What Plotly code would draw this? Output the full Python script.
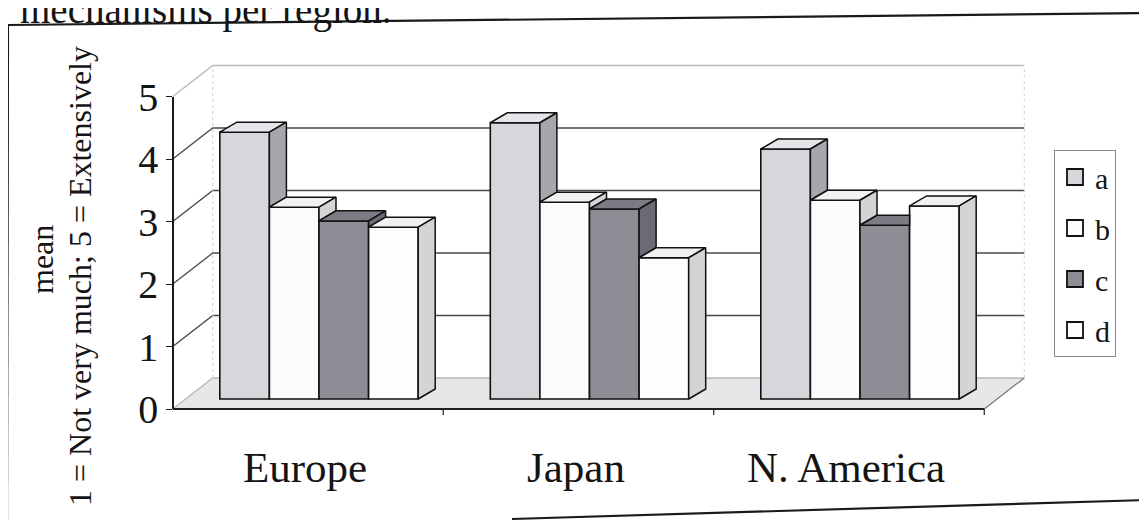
import plotly.graph_objects as go

# ---------------- data ----------------
categories = ["Europe", "Japan", "N. America"]
series_names = ["a", "b", "c", "d"]
a_vals = [4.27, 4.42, 4.00]
b_vals = [3.07, 3.15, 3.18]
c_vals = [2.85, 3.04, 2.78]
d_vals = [2.75, 2.26, 3.09]
y_ticks = [0, 1, 2, 3, 4, 5]
title_text = "mechanisms per region."
y_title_1 = "mean"
y_title_2 = "1 = Not very much; 5 = Extensively"

series_vals = [a_vals, b_vals, c_vals, d_vals]

# ---------------- styles / geometry ----------------
W, H = 1147, 520
OFF = 8                                   # page body margin compensation (px)
PX_X, X0PX = 270.5, 319 - OFF             # pixels per category, pixel of first category
PX_Y, Y0PX = 62.5, 399 - OFF              # pixels per unit, pixel of bar baseline
FONT = "Liberation Serif"
TXT = "#141414"


def px(xp):
    return (xp - OFF) / W


def py(yp):
    return 1 - (yp - OFF) / H


front_col = ["#d7d6db", "#fbfbfb", "#8e8c95", "#fdfdfd"]
top_col = ["#e6e5ea", "#f1f1f1", "#7c7a83", "#f1f1f1"]
side_col = ["#a7a6ac", "#d4d4d6", "#6c6a72", "#d4d4d6"]

bw = 49.6 / PX_X
ddx, ddy = 17 / PX_X, 10 / PX_Y           # bar depth
fxd, fy = -11 / PX_X, -10 / PX_Y           # front edge of floor
bxd, by = 29 / PX_X, 21 / PX_Y             # back wall
n = len(categories)
idx = list(range(n))
ns = len(series_names)

xl_front, xr_front = -0.5 + fxd, n - 0.5 + fxd
xl_back, xr_back = -0.5 + bxd, n - 0.5 + bxd
vmax = max(y_ticks)

fig = go.Figure()

# shapes: floor, walls, gridlines (behind bars)
shapes = []
shapes.append(dict(type="path", xref="x", yref="y", layer="below",
                   path=f"M{xl_front},{fy} L{xr_front},{fy} L{xr_back},{by} L{xl_back},{by} Z",
                   fillcolor="#e7e7e9", line=dict(width=0)))
for v in y_ticks:
    col = "#4a4a4a" if 0 < v < vmax else "#b8b8b8"
    shapes.append(dict(type="path", xref="x", yref="y", layer="below",
                       path=f"M{xl_front},{v+fy} L{xl_back},{v+by} L{xr_back},{v+by}",
                       line=dict(color=col, width=1.3)))
shapes.append(dict(type="line", xref="x", yref="y", layer="below",
                   x0=xl_back, y0=by, x1=xl_back, y1=vmax + by,
                   line=dict(color="#cfcfcf", width=1, dash="dot")))
shapes.append(dict(type="line", xref="x", yref="y", layer="below",
                   x0=xr_back, y0=by, x1=xr_back, y1=vmax + by,
                   line=dict(color="#cfcfcf", width=1, dash="dot")))
shapes.append(dict(type="line", xref="x", yref="y", layer="below",
                   x0=xr_front, y0=fy, x1=xr_back, y1=by,
                   line=dict(color="#777777", width=1.2)))
shapes.append(dict(type="line", xref="x", yref="y", layer="below",
                   x0=xl_front, y0=fy, x1=xr_front, y1=fy,
                   line=dict(color="#1e1e1e", width=1.8)))
for i in range(1, n + 1):
    xb = i - 0.5 + fxd
    shapes.append(dict(type="line", xref="x", yref="y", layer="below",
                       x0=xb, y0=fy, x1=xb, y1=fy - 6 / PX_Y,
                       line=dict(color="#1e1e1e", width=1.2)))

# frame around the chart (scan border)
frame = dict(color="#1a1a1a", width=2.2)
shapes.append(dict(type="line", xref="paper", yref="paper",
                   x0=px(8), y0=py(25), x1=px(1147), y1=py(13), line=frame))
shapes.append(dict(type="line", xref="paper", yref="paper",
                   x0=px(8), y0=py(25), x1=px(7), y1=py(520), line=frame))
shapes.append(dict(type="line", xref="paper", yref="paper",
                   x0=px(512), y0=py(519), x1=px(1147), y1=py(500), line=frame))

# bar fronts
for k in range(ns):
    off = (k - ns / 2 + 0.5) * bw
    fig.add_trace(go.Bar(
        x=[i + off for i in idx], y=series_vals[k], width=bw,
        name=series_names[k], legendgroup=series_names[k], showlegend=False,
        marker=dict(color=front_col[k], line=dict(color="#111111", width=1.6)),
        hoverinfo="skip"))

# tops and sides (depth faces computed from the values)
for g in idx:
    for k in range(ns):
        v = series_vals[k][g]
        xl = g + (k - ns / 2) * bw
        xr = xl + bw
        v_next = series_vals[k + 1][g] if k < ns - 1 else None
        if v_next is not None and v_next > v:
            tx = [xl, xr, xr, xl + ddx, xl]
        else:
            tx = [xl, xr, xr + ddx, xl + ddx, xl]
        ty = [v, v, v + ddy, v + ddy, v]
        fig.add_trace(go.Scatter(x=tx, y=ty, mode="lines", fill="toself",
                                 fillcolor=top_col[k], line=dict(color="#111111", width=1.5),
                                 showlegend=False, hoverinfo="skip"))
        if v_next is None:
            lo = 0
        elif v > v_next:
            lo = v_next
        else:
            lo = None
        if lo is not None:
            sx = [xr, xr + ddx, xr + ddx, xr, xr]
            sy = [lo, lo + ddy, v + ddy, v, lo]
            fig.add_trace(go.Scatter(x=sx, y=sy, mode="lines", fill="toself",
                                     fillcolor=side_col[k], line=dict(color="#111111", width=1.5),
                                     showlegend=False, hoverinfo="skip"))

# legend entries (large square swatches)
for k in range(ns):
    fig.add_trace(go.Scatter(
        x=[None], y=[None], mode="markers", name=series_names[k],
        legendgroup=series_names[k],
        marker=dict(symbol="square", size=16, color=front_col[k],
                    line=dict(color="#111111", width=1.8))))

# dummy trace for the front value axis
fig.add_trace(go.Scatter(x=[None], y=[None], yaxis="y2", showlegend=False, hoverinfo="skip"))

annotations = []
for i, c in enumerate(categories):
    annotations.append(dict(x=i, y=(Y0PX - (467 - OFF)) / PX_Y, xref="x", yref="y", xshift=-14,
                            text=c, showarrow=False, xanchor="center", yanchor="middle",
                            font=dict(family=FONT, size=43, color=TXT)))
annotations.append(dict(x=px(42), y=py(260), xref="paper", yref="paper",
                        text=y_title_1, textangle=-90, showarrow=False,
                        xanchor="center", yanchor="middle",
                        font=dict(family=FONT, size=32, color=TXT)))
annotations.append(dict(x=px(80), y=py(276), xref="paper", yref="paper",
                        text=y_title_2, textangle=-90, showarrow=False,
                        xanchor="center", yanchor="middle",
                        font=dict(family=FONT, size=32, color=TXT)))
annotations.append(dict(x=px(18), y=py(34), xref="paper", yref="paper",
                        text=title_text, showarrow=False, xanchor="left", yanchor="bottom",
                        font=dict(family=FONT, size=39, color=TXT)))

fig.update_layout(
    width=W, height=H, autosize=False,
    margin=dict(l=0, r=0, t=0, b=0, pad=0, autoexpand=False),
    paper_bgcolor="white", plot_bgcolor="rgba(0,0,0,0)",
    barmode="overlay",
    xaxis=dict(range=[-X0PX / PX_X, (W - X0PX) / PX_X], visible=False, domain=[0, 1],
               automargin=False),
    yaxis=dict(range=[-(H - Y0PX) / PX_Y, Y0PX / PX_Y], visible=False, domain=[0, 1],
               automargin=False),
    yaxis2=dict(anchor="free", position=px(173), side="left", automargin=False,
                domain=[py(409), py(409 - 62.5 * vmax)],
                range=[0, vmax], tickvals=y_ticks, showgrid=False, zeroline=False,
                showline=True, linecolor="#1a1a1a", linewidth=1.6,
                ticks="outside", ticklen=6, tickcolor="#1a1a1a", tickwidth=1.4,
                tickfont=dict(family=FONT, size=40, color=TXT)),
    showlegend=True,
    legend=dict(x=px(1054), y=py(150), xanchor="left", yanchor="top",
                font=dict(family=FONT, size=30, color=TXT),
                bgcolor="white", bordercolor="#8a8a8a", borderwidth=1,
                tracegroupgap=9, traceorder="grouped"),
    shapes=shapes,
    annotations=annotations,
)

fig.write_html("out.html")
